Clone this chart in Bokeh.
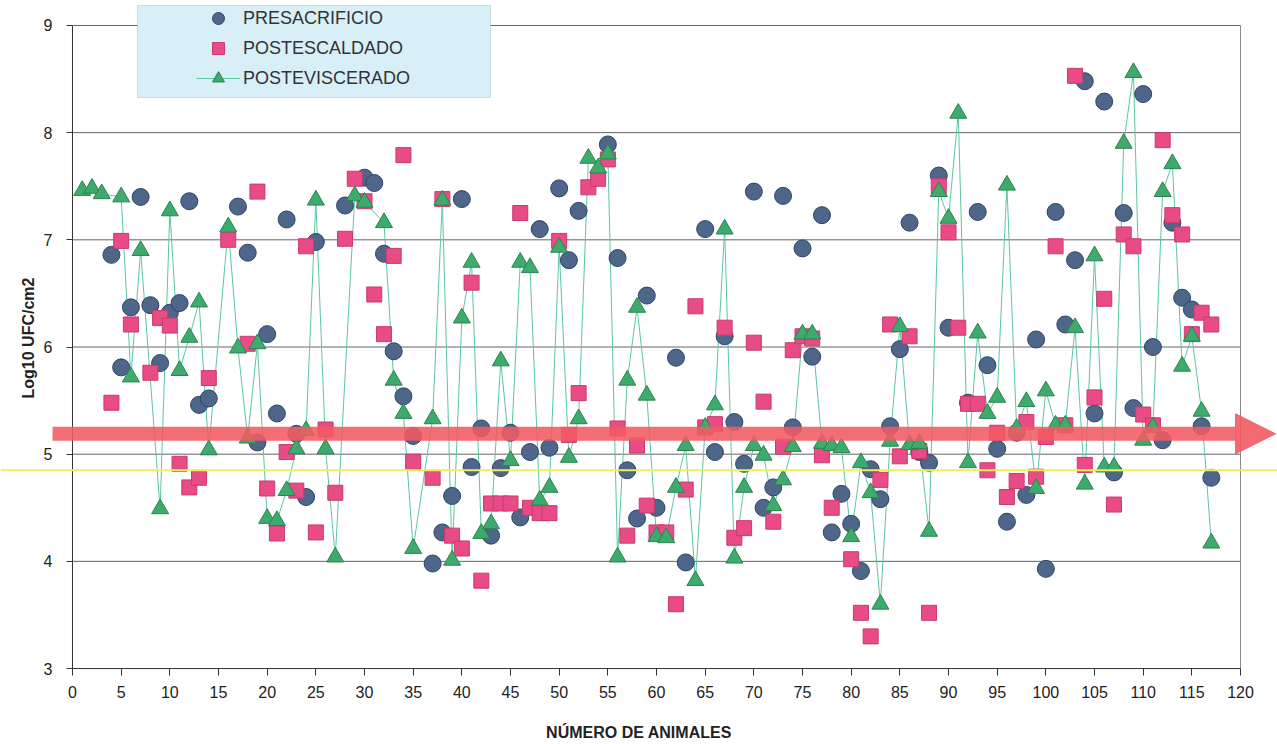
from bokeh.plotting import figure
from bokeh.models import (FixedTicker, Legend, LegendItem, Arrow, NormalHead,
                          Span, BoxAnnotation, Range1d)
from bokeh.embed import file_html
from bokeh.resources import INLINE

# ---------------- data ----------------
pre_x = [4, 5, 6, 7, 8, 9, 10, 11, 12, 13, 14, 17, 18, 19, 20, 21, 22, 23, 24, 25,
         28, 30, 31, 32, 33, 34, 35, 37, 38, 39, 40, 41, 42, 43, 44, 45, 46, 47, 48, 49,
         50, 51, 52, 55, 56, 57, 58, 59, 60, 62, 63, 65, 66, 67, 68, 69, 70, 71, 72, 73,
         74, 75, 76, 77, 78, 79, 80, 81, 82, 83, 84, 85, 86, 87, 88, 89, 90, 92, 93, 94,
         95, 96, 97, 98, 99, 100, 101, 102, 103, 104, 105, 106, 107, 108, 109, 110, 111,
         112, 113, 114, 115, 116, 117]
pre_y = [6.86, 5.81, 6.37, 7.40, 6.39, 5.85, 6.32, 6.41, 7.36, 5.46, 5.52, 7.31, 6.88, 5.11,
         6.12, 5.38, 7.19, 5.19, 4.60, 6.98,
         7.32, 7.58, 7.53, 6.87, 5.96, 5.54, 5.17, 3.98, 4.27, 4.61, 7.38, 4.88, 5.24, 4.24,
         4.87, 5.20, 4.41, 5.02, 7.10, 5.06,
         7.48, 6.81, 7.27, 7.89, 6.83, 4.85, 4.40, 6.48, 4.50, 5.90, 3.99, 7.10, 5.02, 6.10,
         5.30, 4.91, 7.45, 4.50, 4.69, 7.41,
         5.25, 6.92, 5.91, 7.23, 4.27, 4.63, 4.35, 3.91, 4.86, 4.58, 5.26, 5.98, 7.16, 5.02,
         4.92, 7.60, 6.18, 5.48, 7.26, 5.83,
         5.05, 4.37, 5.20, 4.62, 6.07, 3.93, 7.26, 6.21, 6.81, 8.48, 5.38, 8.29, 4.83, 7.25,
         5.43, 8.36, 6.00,
         5.13, 7.16, 6.46, 6.35, 5.26, 4.78]

esc_x = [4, 5, 6, 8, 9, 10, 11, 12, 13, 14, 16, 18, 19, 20, 21, 22, 23, 24, 25, 26,
         27, 28, 29, 30, 31, 32, 33, 34, 35, 37, 38, 39, 40, 41, 42, 43, 44, 45, 46, 47,
         48, 49, 50, 51, 52, 53, 54, 55, 56, 57, 58, 59, 60, 61, 62, 63, 64, 65, 66, 67,
         68, 69, 70, 71, 72, 73, 74, 75, 76, 77, 78, 80, 81, 82, 83, 84, 85, 86, 87, 88,
         89, 90, 91, 92, 93, 94, 95, 96, 97, 98, 99, 100, 101, 102, 103, 104, 105, 106,
         107, 108, 109, 110, 111, 112, 113, 114, 115, 116, 117]
esc_y = [5.48, 6.99, 6.21, 5.76, 6.27, 6.20, 4.91, 4.69, 4.78, 5.71, 7.00, 6.03, 7.45, 4.68,
         4.26, 5.02, 4.66, 6.94, 4.27, 5.23,
         4.64, 7.01, 7.57, 7.36, 6.49, 6.12, 6.85, 7.79, 4.93, 4.78, 7.38, 4.24, 4.12, 6.60,
         3.82, 4.54, 4.54, 4.54, 7.25, 4.50,
         4.45, 4.45, 6.99, 5.18, 5.57, 7.49, 7.57, 7.75, 5.24, 4.24, 5.08, 4.52, 4.27, 4.27,
         3.60, 4.67, 6.38, 5.25, 5.28, 6.18,
         4.22, 4.31, 6.04, 5.49, 4.37, 5.07, 5.97, 6.10, 6.08, 4.99, 4.50, 4.02, 3.52, 3.30,
         4.76, 6.21, 4.98, 6.10, 5.03, 3.52,
         7.50, 7.07, 6.18, 5.47, 5.47, 4.85, 5.20, 4.60, 4.75, 5.30, 4.79, 5.16, 6.94, 5.27,
         8.53, 4.90, 5.53, 6.45,
         4.53, 7.05, 6.94, 5.37, 5.27, 7.93, 7.23, 7.05, 6.12, 6.32, 6.21]

evi_x = [1, 2, 3, 5, 6, 7, 9, 10, 11, 12, 13, 14, 16, 17, 18, 19, 20, 21, 22, 23,
         24, 25, 26, 27, 29, 30, 32, 33, 34, 35, 37, 38, 39, 40, 41, 42, 43, 44, 45, 46,
         47, 48, 49, 50, 51, 52, 53, 54, 55, 56, 57, 58, 59, 60, 61, 62, 63, 64, 65, 66,
         67, 68, 69, 70, 71, 72, 73, 74, 75, 76, 77, 78, 79, 80, 81, 82, 83, 84, 85, 86,
         87, 88, 89, 90, 91, 92, 93, 94, 95, 96, 97, 98, 99, 100, 101, 102, 103, 104, 105,
         106, 107, 108, 109, 110, 111, 112, 113, 114, 115, 116, 117]
evi_y = [7.46, 7.48, 7.43, 7.40, 5.72, 6.90, 4.49, 7.27, 5.78, 6.09, 6.42, 5.04, 7.12, 5.99,
         5.15, 6.03, 4.40, 4.38, 4.66, 5.05,
         5.22, 7.37, 5.05, 4.04, 7.41, 7.35, 7.16, 5.69, 5.38, 4.12, 5.33, 7.37, 4.01, 6.27,
         6.79, 4.26, 4.35, 5.87, 4.94, 6.79,
         6.74, 4.57, 4.69, 6.93, 4.97, 5.33, 7.76, 7.67, 7.80, 4.04, 5.69, 6.37, 5.55, 4.23,
         4.22, 4.69, 5.08, 3.82, 5.25, 5.46,
         7.10, 4.03, 4.69, 5.08, 4.99, 4.52, 4.76, 5.07, 6.12, 6.12, 5.10, 5.08, 5.06, 4.23,
         4.92, 4.64, 3.60, 5.12, 6.19, 5.09,
         5.10, 4.28, 7.45, 7.20, 8.18, 4.92, 6.13, 5.38, 5.53, 7.51, 5.24, 5.49, 4.68, 5.59,
         5.27, 5.27, 6.18, 4.72, 6.85,
         4.88, 4.88, 7.90, 8.56, 5.13, 5.25, 7.45, 7.71, 5.82, 6.10, 5.40, 4.17]

series_names = ["PRESACRIFICIO", "POSTESCALDADO", "POSTEVISCERADO"]
x_ticks = list(range(0, 121, 5))
y_ticks = [3, 4, 5, 6, 7, 8, 9]
x_lim = (0, 120)
arrow_level = 5.19     # hand-drawn red arrow
yellow_level = 4.85    # hand-drawn yellow line

# ---------------- figure ----------------
FONT = "Liberation Sans"
p = figure(width=1277, height=744, output_backend="svg", toolbar_location=None,
           x_range=Range1d(-7.397, 123.80), y_range=Range1d(2.935, 9.233),
           min_border_left=0, min_border_right=0, min_border_top=0,
           min_border_bottom=69)
p.outline_line_color = None
p.xgrid.visible = False
p.ygrid.visible = False
p.background_fill_color = "white"
p.border_fill_color = "white"

# axes
xa = p.xaxis[0]
xa.ticker = FixedTicker(ticks=x_ticks)
xa.axis_line_color = None
xa.major_tick_out = 0
xa.major_tick_in = 7
xa.minor_tick_line_color = None
xa.major_tick_line_color = "#333333"
xa.major_label_standoff = 10
xa.major_label_text_font = FONT
xa.major_label_text_font_size = "16px"
xa.major_label_text_color = "#222222"
xa.axis_label = "NÚMERO DE ANIMALES"
xa.axis_label_text_font = FONT
xa.axis_label_text_font_style = "bold"
xa.axis_label_text_font_size = "16px"
xa.axis_label_text_color = "#222222"
xa.axis_label_standoff = 23

ya = p.yaxis[0]
ya.fixed_location = 0
ya.ticker = FixedTicker(ticks=y_ticks)
ya.axis_line_color = None
ya.major_tick_out = 6
ya.major_tick_in = 0
ya.minor_tick_line_color = None
ya.major_tick_line_color = "#333333"
ya.major_label_standoff = 14
ya.major_label_text_font = FONT
ya.major_label_text_font_size = "16px"
ya.major_label_text_color = "#222222"
ya.axis_label = "Log10 UFC/cm2"
ya.axis_label_text_font = FONT
ya.axis_label_text_font_style = "bold"
ya.axis_label_text_font_size = "16px"
ya.axis_label_text_color = "#222222"
ya.axis_label_standoff = 4

# gridlines and frame (limited to 0..120 as in the reference)
p.segment(x0=[x_lim[0]] * (len(y_ticks) - 1), x1=[x_lim[1]] * (len(y_ticks) - 1),
          y0=y_ticks[1:], y1=y_ticks[1:], line_color="#646464", line_width=1)
p.segment(x0=[x_lim[0]], x1=[x_lim[1]], y0=[y_ticks[0]], y1=[y_ticks[0]],
          line_color="#333333", line_width=1)
p.segment(x0=[x_lim[0]], x1=[x_lim[0]], y0=[y_ticks[0]], y1=[y_ticks[-1]],
          line_color="#333333", line_width=1)
p.segment(x0=[x_lim[1]], x1=[x_lim[1]], y0=[y_ticks[0]], y1=[y_ticks[-1]],
          line_color="#8a8a8a", line_width=1)

# series
r_line = p.line(evi_x, evi_y, line_color="#5cc6a2", line_width=1)
r_pre = p.scatter(pre_x, pre_y, marker="circle", size=17,
                  fill_color="#4d6689", line_color="#2f4567", line_width=1)
r_esc = p.scatter(esc_x, esc_y, marker="square", size=15,
                  fill_color="#e84b85", line_color="#c93a6d", line_width=1)
r_evi = p.scatter(evi_x, evi_y, marker="triangle", size=17,
                  fill_color="#3eab6c", line_color="#2a8450", line_width=1)

# hand-drawn overlays
p.add_layout(Span(location=yellow_level, dimension="width",
                  line_color="#f2ee5c", line_width=2))
red = "#f25a62"
p.add_layout(Arrow(end=NormalHead(size=40, fill_color=red, line_color=red, fill_alpha=0.9,
                                  line_alpha=0.9),
                   x_start=-2.05, y_start=arrow_level, x_end=123.6, y_end=arrow_level,
                   line_color=red, line_width=14, line_alpha=0.88))

# legend box (screen units: x from frame left, y up from frame bottom) + legend
p.add_layout(BoxAnnotation(left=137, right=490, top=670, bottom=578,
                           left_units="screen", right_units="screen",
                           top_units="screen", bottom_units="screen",
                           fill_color="#d8eff7", fill_alpha=1.0,
                           line_color="#9a9a9a", line_width=1))
legend = Legend(items=[LegendItem(label=series_names[0], renderers=[r_pre]),
                       LegendItem(label=series_names[1], renderers=[r_esc]),
                       LegendItem(label=series_names[2], renderers=[r_line, r_evi])],
                location=(196, 582), background_fill_alpha=0, border_line_color=None,
                padding=0, spacing=0, margin=0, glyph_width=44, glyph_height=30,
                label_standoff=3, label_text_font=FONT, label_text_font_size="18px",
                label_text_color="#333333", label_height=30)
p.add_layout(legend)

open("out.html", "w").write(file_html(p, INLINE))
